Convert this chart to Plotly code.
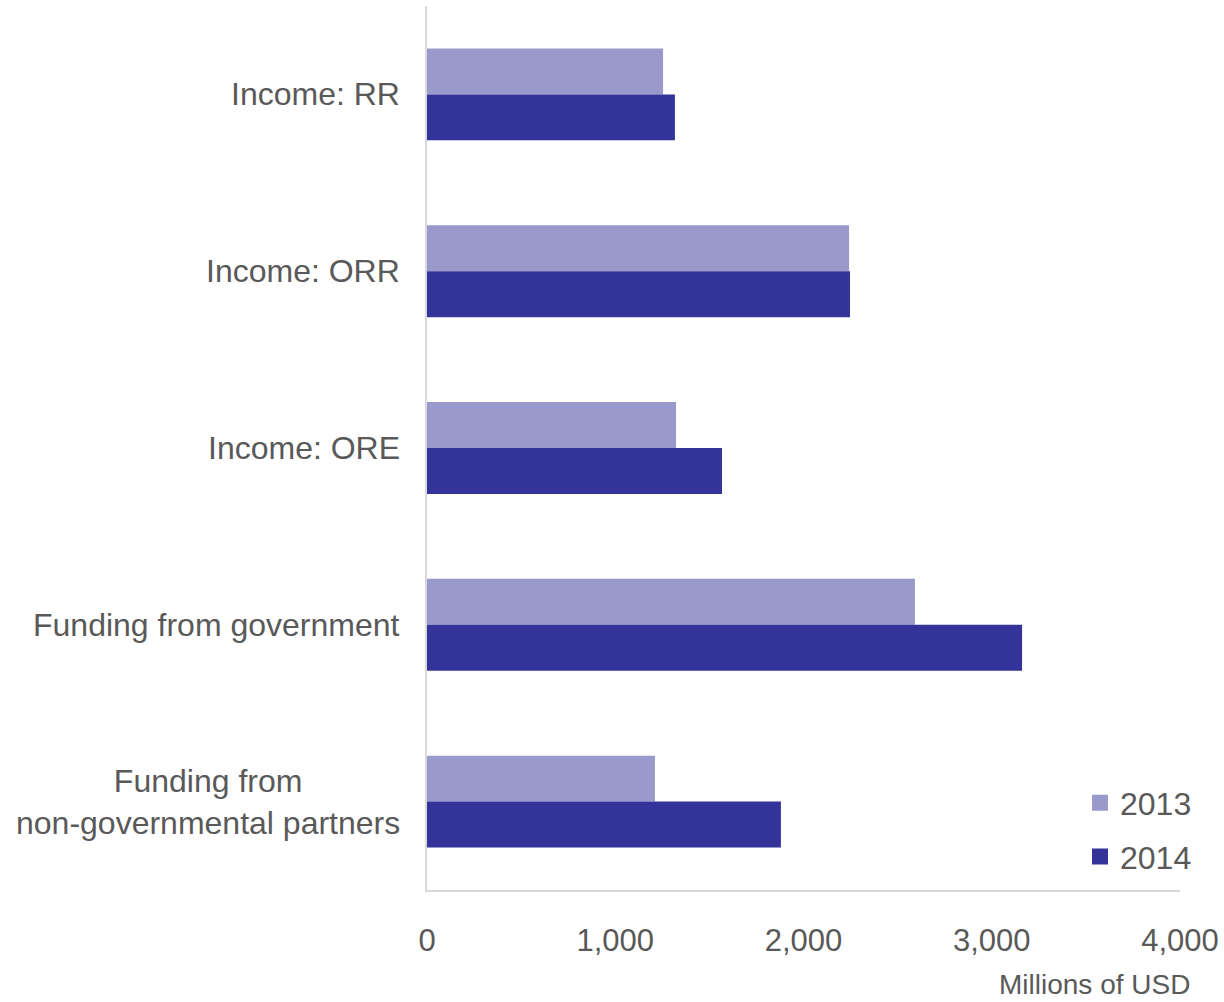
import plotly.graph_objects as go

categories = ["Income: RR", "Income: ORR", "Income: ORE", "Funding from government",
              "Funding from<br>non-governmental partners"]
values_2013 = [1254, 2242, 1323, 2592, 1211]
values_2014 = [1317, 2247, 1567, 3161, 1880]
x_ticks = [0, 1000, 2000, 3000, 4000]
x_tick_labels = ["0", "1,000", "2,000", "3,000", "4,000"]
series_names = ["2013", "2014"]
series_colors = ["#9999CC", "#333399"]

FONT = "Liberation Sans Narrow, Arial Narrow, Liberation Sans, sans-serif"
GREY = "#595959"

W, H = 1224, 1002
L, R, T, B = 427, 44, 6, 112
PLOT_W = W - L - R
PLOT_H = H - T - B

fig = go.Figure()
for name, vals, col in zip(series_names, [values_2013, values_2014], series_colors):
    fig.add_trace(go.Bar(y=categories, x=vals, name=name, orientation="h",
                         marker=dict(color=col, line=dict(width=0)), showlegend=False))
# legend entries with larger square swatches
for i, (name, col) in enumerate(zip(series_names, series_colors)):
    fig.add_trace(go.Scatter(x=[None], y=[None], mode="markers", name=name,
                             marker=dict(symbol="square", size=17, color=col),
                             legendgroup=str(i)))

annotations = [dict(text=c, xref="paper", yref="y", x=-25 / PLOT_W, y=c,
                    xanchor="right", yanchor="middle", align="center", showarrow=False,
                    font=dict(size=32, color=GREY, family=FONT))
               for c in categories]
annotations.append(dict(text="Millions of USD", xref="paper", yref="paper",
                        x=(1192 - L) / PLOT_W, y=-(984 - (H - B)) / PLOT_H,
                        xanchor="right", yanchor="middle", showarrow=False,
                        font=dict(size=28, color=GREY, family=FONT)))

fig.update_layout(
    width=W, height=H,
    margin=dict(l=L, r=R, t=T, b=B, autoexpand=False),
    paper_bgcolor="white", plot_bgcolor="white",
    barmode="group", bargap=0.48, bargroupgap=0,
    font=dict(family=FONT, color=GREY, size=32),
    legend=dict(x=(1197 - L) / PLOT_W, xanchor="right",
                y=-(830 - (H - B)) / PLOT_H, yanchor="middle",
                traceorder="grouped", tracegroupgap=9, itemwidth=30,
                font=dict(size=32, color=GREY), bgcolor="rgba(0,0,0,0)"),
    xaxis=dict(range=[0, 4000], tickvals=x_ticks, ticktext=x_tick_labels,
               showgrid=False, zeroline=False, showline=True, linecolor="#D9D9D9",
               linewidth=1.5, ticks="", ticklabelstandoff=22, automargin=False,
               ticklabeloverflow="allow", tickfont=dict(size=31, color=GREY)),
    yaxis=dict(autorange="reversed", showgrid=False, showline=True, linecolor="#D9D9D9",
               linewidth=1.5, ticks="", showticklabels=False, automargin=False),
    annotations=annotations,
)

fig.write_html("out.html", config={"displayModeBar": False},
               post_script="document.body.style.margin='0';document.body.style.overflow='hidden';")
